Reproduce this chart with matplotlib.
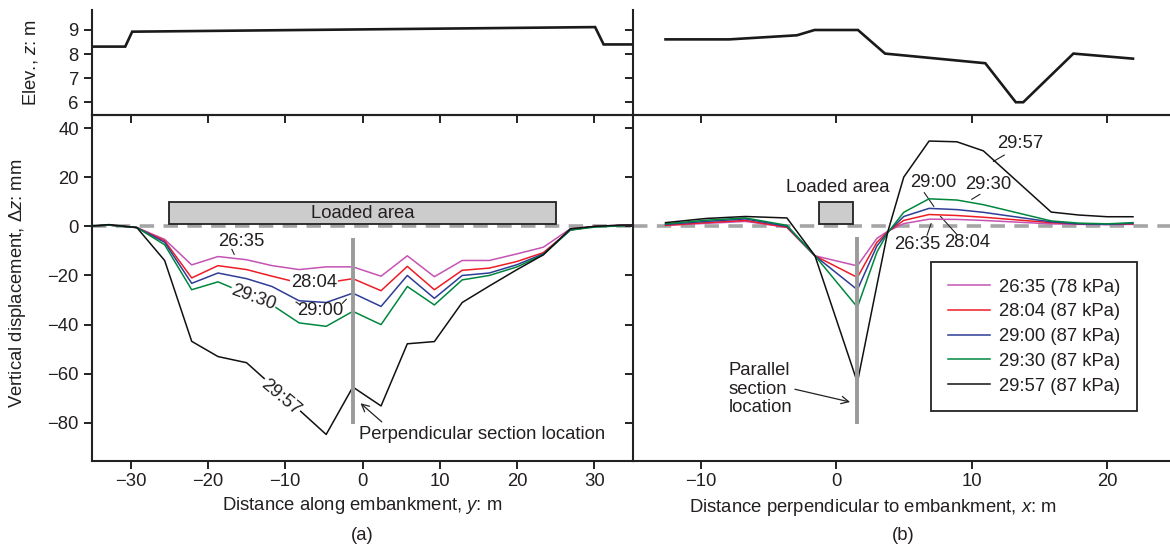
import matplotlib
matplotlib.use('Agg')
import matplotlib.pyplot as plt
from matplotlib.patches import Rectangle

FS = 13.3
plt.rcParams['font.family'] = ['Liberation Sans', 'DejaVu Sans']
plt.rcParams['mathtext.fontset'] = 'custom'
plt.rcParams['mathtext.rm'] = 'Liberation Sans'
plt.rcParams['mathtext.it'] = 'Liberation Sans:italic'
plt.rcParams['font.size'] = FS
plt.rcParams['text.color'] = '#231f20'

# ---- (a) section along the embankment ----
y_along = [-35.5, -32.8, -29.2, -25.6, -22.1, -18.7, -15.0, -11.7, -8.2, -4.7, -1.25,
           2.4, 5.8, 9.3, 12.9, 16.4, 20.0, 23.4, 26.9, 30.1, 33.5, 35.5]
dz_a_2635 = [0, 0.5, -0.5, -5.3, -15.7, -12.3, -13.6, -16.0, -17.6, -16.5, -16.5,
             -20.3, -12.0, -20.5, -13.9, -13.9, -11.2, -8.5, -1.0, 0.0, 0.5, 0.5]
dz_a_2804 = [0, 0.5, -0.5, -5.9, -21.0, -16.0, -17.6, -20.3, -23.0, -23.0, -21.3,
             -26.2, -16.3, -25.8, -17.9, -17.0, -14.3, -10.7, -1.5, 0.0, 0.3, 0.5]
dz_a_2900 = [0, 0.5, -0.5, -6.5, -23.2, -19.0, -21.3, -24.5, -30.3, -31.0, -27.2,
             -32.6, -20.0, -29.3, -20.0, -19.0, -15.6, -11.2, -1.5, 0.0, 0.3, 0.5]
dz_a_2930 = [0, 0.5, -0.5, -7.5, -25.8, -22.6, -27.5, -32.0, -39.3, -40.7, -34.6,
             -40.0, -24.5, -32.0, -21.8, -20.0, -16.5, -11.5, -1.5, -0.3, 0.2, 0.3]
dz_a_2957 = [0, 0.7, -0.5, -13.9, -46.8, -53.0, -55.5, -64.8, -74.7, -84.7, -65.4,
             -73.1, -47.8, -46.9, -31.0, -24.3, -17.6, -11.6, -1.0, 0.0, 0.5, 0.5]

elev_y = [-35, -30.7, -29.8, 30.1, 31.2, 35]
elev_z_a = [8.31, 8.31, 8.93, 9.12, 8.40, 8.40]

# ---- (b) section perpendicular to the embankment ----
x_perp = [-12.6, -9.6, -6.7, -3.64, -1.57, 1.56, 3.0, 3.8, 4.98, 6.85, 8.9, 10.86,
          15.86, 17.9, 20.0, 21.9]
dz_b_2635 = [0.4, 1.2, 2.0, -0.4, -12.0, -16.1, -4.9, -2.0, 1.1, 2.9, 2.8, 2.4,
             1.0, 0.8, 0.7, 0.8]
dz_b_2804 = [0.4, 1.5, 2.4, -0.4, -12.0, -20.8, -6.5, -2.2, 2.4, 4.8, 4.4, 3.7,
             1.5, 1.0, 0.8, 1.0]
dz_b_2900 = [0.8, 2.0, 3.0, 0.0, -12.0, -25.8, -8.0, -2.4, 4.0, 7.3, 6.8, 5.7,
             1.8, 1.0, 0.8, 1.2]
dz_b_2930 = [1.0, 2.5, 3.4, 0.4, -12.0, -32.9, -10.5, -2.6, 5.7, 11.2, 10.7, 8.8,
             2.2, 1.3, 1.0, 1.5]
dz_b_2957 = [1.5, 3.2, 4.0, 3.4, -12.0, -63.5, -24.0, -2.3, 20.0, 34.7, 34.4, 30.7,
             5.8, 4.6, 3.9, 3.9]

elev_x = [-12.6, -7.9, -2.9, -1.6, 1.6, 3.6, 11.0, 13.25, 13.8, 17.5, 21.9]
elev_z_b = [8.61, 8.61, 8.78, 9.0, 9.0, 8.02, 7.62, 6.0, 6.0, 8.02, 7.81]

series_names = ['26:35 (78 kPa)', '28:04 (87 kPa)', '29:00 (87 kPa)',
                '29:30 (87 kPa)', '29:57 (87 kPa)']
series_colors = ['#c453b4', '#ee1c25', '#2e3d96', '#00873e', '#111111']
dz_a = [dz_a_2635, dz_a_2804, dz_a_2900, dz_a_2930, dz_a_2957]
dz_b = [dz_b_2635, dz_b_2804, dz_b_2900, dz_b_2930, dz_b_2957]

W, H = 1170, 547
fig = plt.figure(figsize=(W / 100, H / 100), dpi=100)


def box(x0, y0, x1, y1):
    return [x0 / W, 1 - y1 / H, (x1 - x0) / W, (y1 - y0) / H]


ax_a = fig.add_axes(box(92, 115, 633, 461))
ax_ta = fig.add_axes(box(92, 10, 633, 115))
ax_b = fig.add_axes(box(633, 115, 1175, 461))
ax_tb = fig.add_axes(box(633, 10, 1175, 115))

spine_w = 1.5
gray = '#9b9b9b'

for ax in (ax_a, ax_b, ax_ta, ax_tb):
    ax.spines['right'].set_visible(False)
    for s in ax.spines.values():
        s.set_linewidth(spine_w)
        s.set_color('#222222')
    ax.tick_params(direction='out', length=6, width=1.4, color='#222222',
                   labelcolor='#231f20', labelsize=FS)
    ax.patch.set_alpha(0)

for ax in (ax_ta, ax_tb):
    ax.spines['top'].set_visible(False)
    ax.set_ylim(5.47, 9.83)
    ax.set_yticks([6, 7, 8, 9])
    ax.tick_params(axis='x', labelbottom=False)

# top elevation panels
ax_ta.plot(elev_y, elev_z_a, color='#1a1a1a', lw=1.9, solid_joinstyle='miter')
ax_tb.plot(elev_x, elev_z_b, color='#1a1a1a', lw=1.9, solid_joinstyle='miter')
ax_ta.set_xlim(-35, 35)
ax_tb.set_xlim(-15, 25)
ax_ta.set_xticks([-30, -20, -10, 0, 10, 20, 30])
ax_tb.set_xticks([-10, 0, 10, 20])
ax_tb.tick_params(axis='y', labelleft=False)

# main panels
for ax, xs, data in ((ax_a, y_along, dz_a), (ax_b, x_perp, dz_b)):
    ax.axhline(0, color='#a5a5a5', lw=2.6, ls=(0, (4, 2.6)), zorder=1)
    for vals, col, name in zip(data, series_colors, series_names):
        ax.plot(xs, vals, color=col, lw=1.1, label=name, zorder=3)
    ax.set_ylim(-95.5, 45.3)
    ax.set_yticks([40, 20, 0, -20, -40, -60, -80])
    ax.tick_params(axis='x', pad=3)

ax_a.set_xlim(-35, 35)
ax_a.set_xticks([-30, -20, -10, 0, 10, 20, 30])
ax_b.set_xlim(-15, 25)
ax_b.set_xticks([-10, 0, 10, 20])
ax_b.tick_params(axis='y', labelleft=False)

# loaded areas
ax_a.add_patch(Rectangle((-25, 1), 50, 9, facecolor='#cccccc', edgecolor='#222222',
                         lw=1.3, zorder=4))
ax_a.text(0, 5.4, 'Loaded area', ha='center', va='center', zorder=5)
ax_b.add_patch(Rectangle((-1.25, 1), 2.5, 9, facecolor='#cccccc', edgecolor='#222222',
                         lw=1.3, zorder=4))
ax_b.text(0.1, 15.6, 'Loaded area', ha='center', va='center', zorder=5)

# section location lines
ax_a.plot([-1.25, -1.25], [-4.7, -80.3], color=gray, lw=2.8, zorder=4,
          solid_capstyle='butt')
ax_b.plot([1.56, 1.56], [-4.3, -80.5], color=gray, lw=2.8, zorder=4,
          solid_capstyle='butt')

arrow = dict(arrowstyle='->', lw=0.9, color='#222222', shrinkA=0, shrinkB=0)
ax_a.annotate('', xy=(-0.26, -72.0), xytext=(2.5, -79.6), arrowprops=arrow)
ax_a.text(-0.4, -84.6, 'Perpendicular section location', ha='left', va='center')
ax_b.annotate('', xy=(1.02, -71.5), xytext=(-3.05, -66.3), arrowprops=arrow)
ax_b.text(-7.97, -66.3, 'Parallel\nsection\nlocation', ha='left', va='center',
          linespacing=1.12)

# curve labels, panel (a)
white = dict(facecolor='white', edgecolor='none', pad=0.5)
ax_a.text(-15.7, -6.3, '26:35', ha='center', va='center')
ax_a.plot([-16.9, -16.6], [-9.4, -11.4], color='#222222', lw=0.8)
ax_a.text(-6.3, -22.7, '28:04', ha='center', va='center', bbox=white, zorder=5)
ax_a.text(-14.1, -28.9, '29:30', ha='center', va='center', rotation=-20,
          bbox=white, zorder=5)
ax_a.text(-5.5, -34.3, '29:00', ha='center', va='center', zorder=5)
ax_a.plot([-8.6, -8.1], [-30.8, -31.9], color='#222222', lw=0.8)
ax_a.plot([-2.6, -2.1], [-31.3, -29.7], color='#222222', lw=0.8)
ax_a.text(-10.6, -69.5, '29:57', ha='center', va='center', rotation=-40,
          bbox=white, zorder=5)

# curve labels, panel (b)
ax_b.text(13.6, 33.6, '29:57', ha='center', va='center')
ax_b.plot([11.6, 12.4], [26.4, 29.0], color='#222222', lw=0.8)
ax_b.text(7.16, 17.9, '29:00', ha='center', va='center')
ax_b.plot([6.5, 7.2], [13.7, 8.1], color='#222222', lw=0.8)
ax_b.text(11.2, 17.0, '29:30', ha='center', va='center')
ax_b.plot([10.6, 10.0], [13.0, 11.0], color='#222222', lw=0.8)
ax_b.text(6.0, -7.3, '26:35', ha='center', va='center')
ax_b.plot([6.7, 7.0], [-3.6, 1.1], color='#222222', lw=0.8)
ax_b.text(9.7, -6.6, '28:04', ha='center', va='center')
ax_b.plot([8.9, 7.7], [-3.3, 4.0], color='#222222', lw=0.8)

leg = ax_b.legend(loc='upper left', bbox_to_anchor=(931 / W, 1 - 262 / H),
                  bbox_transform=fig.transFigure, fancybox=False, framealpha=1,
                  edgecolor='#222222', borderpad=0.9, labelspacing=0.42,
                  handlelength=2.3, handletextpad=0.5, borderaxespad=0,
                  fontsize=FS)
leg.get_frame().set_linewidth(1.3)

# axis titles
fig.text(18 / W, 1 - 283 / H, r'Vertical displacement, $\Delta\it{z}$: mm',
         rotation=90, ha='center', va='center')
fig.text(30 / W, 1 - 62 / H, r'Elev., $\it{z}$: m', rotation=90, ha='center',
         va='center')
fig.text(362 / W, 1 - 505 / H, r'Distance along embankment, $\it{y}$: m',
         ha='center', va='center')
fig.text(873 / W, 1 - 507 / H, r'Distance perpendicular to embankment, $\it{x}$: m',
         ha='center', va='center')
fig.text(362 / W, 1 - 535 / H, '(a)', ha='center', va='center')
fig.text(903 / W, 1 - 535 / H, '(b)', ha='center', va='center')

fig.savefig('out.png', dpi=100)
